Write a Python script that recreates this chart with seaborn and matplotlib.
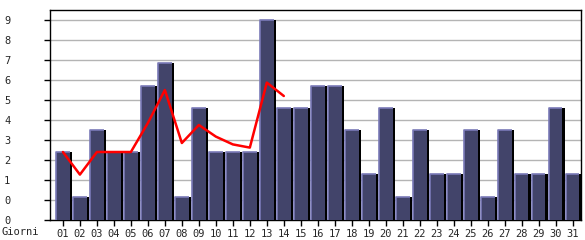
import numpy as np
import pandas as pd
import matplotlib
matplotlib.use("Agg")
import matplotlib.pyplot as plt
import matplotlib.patheffects as pe
from matplotlib.lines import Line2D
import seaborn as sns

days = [f"{i:02d}" for i in range(1, 32)]
bar_values = [3.4, 1.17, 4.5, 3.4, 3.4, 6.7, 7.85, 1.17, 5.6, 3.4,
              3.4, 3.4, 10.0, 5.6, 5.6, 6.7, 6.7, 4.5, 2.28, 5.6,
              1.17, 4.5, 2.28, 2.28, 4.5, 1.17, 4.5, 2.28, 2.28, 5.6, 2.28]
line_values = [3.4, 2.27, 3.4, 3.4, 3.4, 4.85, 6.5, 3.85, 4.75, 4.17,
               3.78, 3.62, 6.87, 6.2]
ytick_pos = list(range(0, 11))
ytick_labels = ["0", "0", "1", "2", "3", "4", "5", "6", "7", "8", "9"]
xlabel_text = "Giorni"

sns.set_style("white")
plt.rcParams["font.family"] = ["DejaVu Sans Mono", "DejaVu Sans"]

fig = plt.figure(figsize=(5.85, 2.4), dpi=100)
ax = fig.add_axes([50 / 585, 20 / 240, 531 / 585, 210 / 240])

df = pd.DataFrame({"day": days, "value": bar_values})
sns.barplot(data=df, x="day", y="value", color="#42446a", saturation=1,
            width=0.8, linewidth=0, ax=ax, zorder=3)

for p in ax.patches:
    p.set_facecolor("#42446a")
    p.set_path_effects([pe.SimplePatchShadow(offset=(1.5, 0), shadow_rgbFace="black",
                                             alpha=1.0), pe.Normal()])
    x0, w, h = p.get_x(), p.get_width(), p.get_height()
    ax.add_line(Line2D([x0, x0, x0 + w], [0, h, h], color="#7a7ab8", lw=1.2,
                       zorder=4, solid_capstyle="butt"))

line_df = pd.DataFrame({"day": days[:len(line_values)], "value": line_values})
sns.lineplot(data=line_df, x="day", y="value", color="#ff0000", lw=1.8,
             ax=ax, zorder=5, sort=False)

ax.set_xlim(-0.76, 30.49)
ax.set_ylim(0, 10.5)
ax.set_yticks(ytick_pos)
ax.set_yticklabels(ytick_labels)
ax.yaxis.grid(True, color="#b4b4b4", lw=1)
ax.set_axisbelow(True)
ax.set_xlabel("")
ax.set_ylabel("")

for s in ax.spines.values():
    s.set_visible(True)
    s.set_color("black")
    s.set_linewidth(1)

ax.tick_params(axis="x", direction="out", length=4, width=1, color="black",
               pad=2.5, labelsize=7.5, bottom=True)
ax.tick_params(axis="y", direction="out", length=4, width=1, color="black",
               pad=0, labelsize=7.5, left=True)
for t in ax.get_yticklabels():
    t.set_horizontalalignment("left")
    t.set_x(-46 / 531)
    t.set_transform(ax.get_yaxis_transform())

fig.text(1 / 585, 1 - 232 / 240, xlabel_text, fontsize=7.5, ha="left", va="center",
         family=["DejaVu Sans Mono", "DejaVu Sans"])

fig.savefig("out.png", dpi=100)
